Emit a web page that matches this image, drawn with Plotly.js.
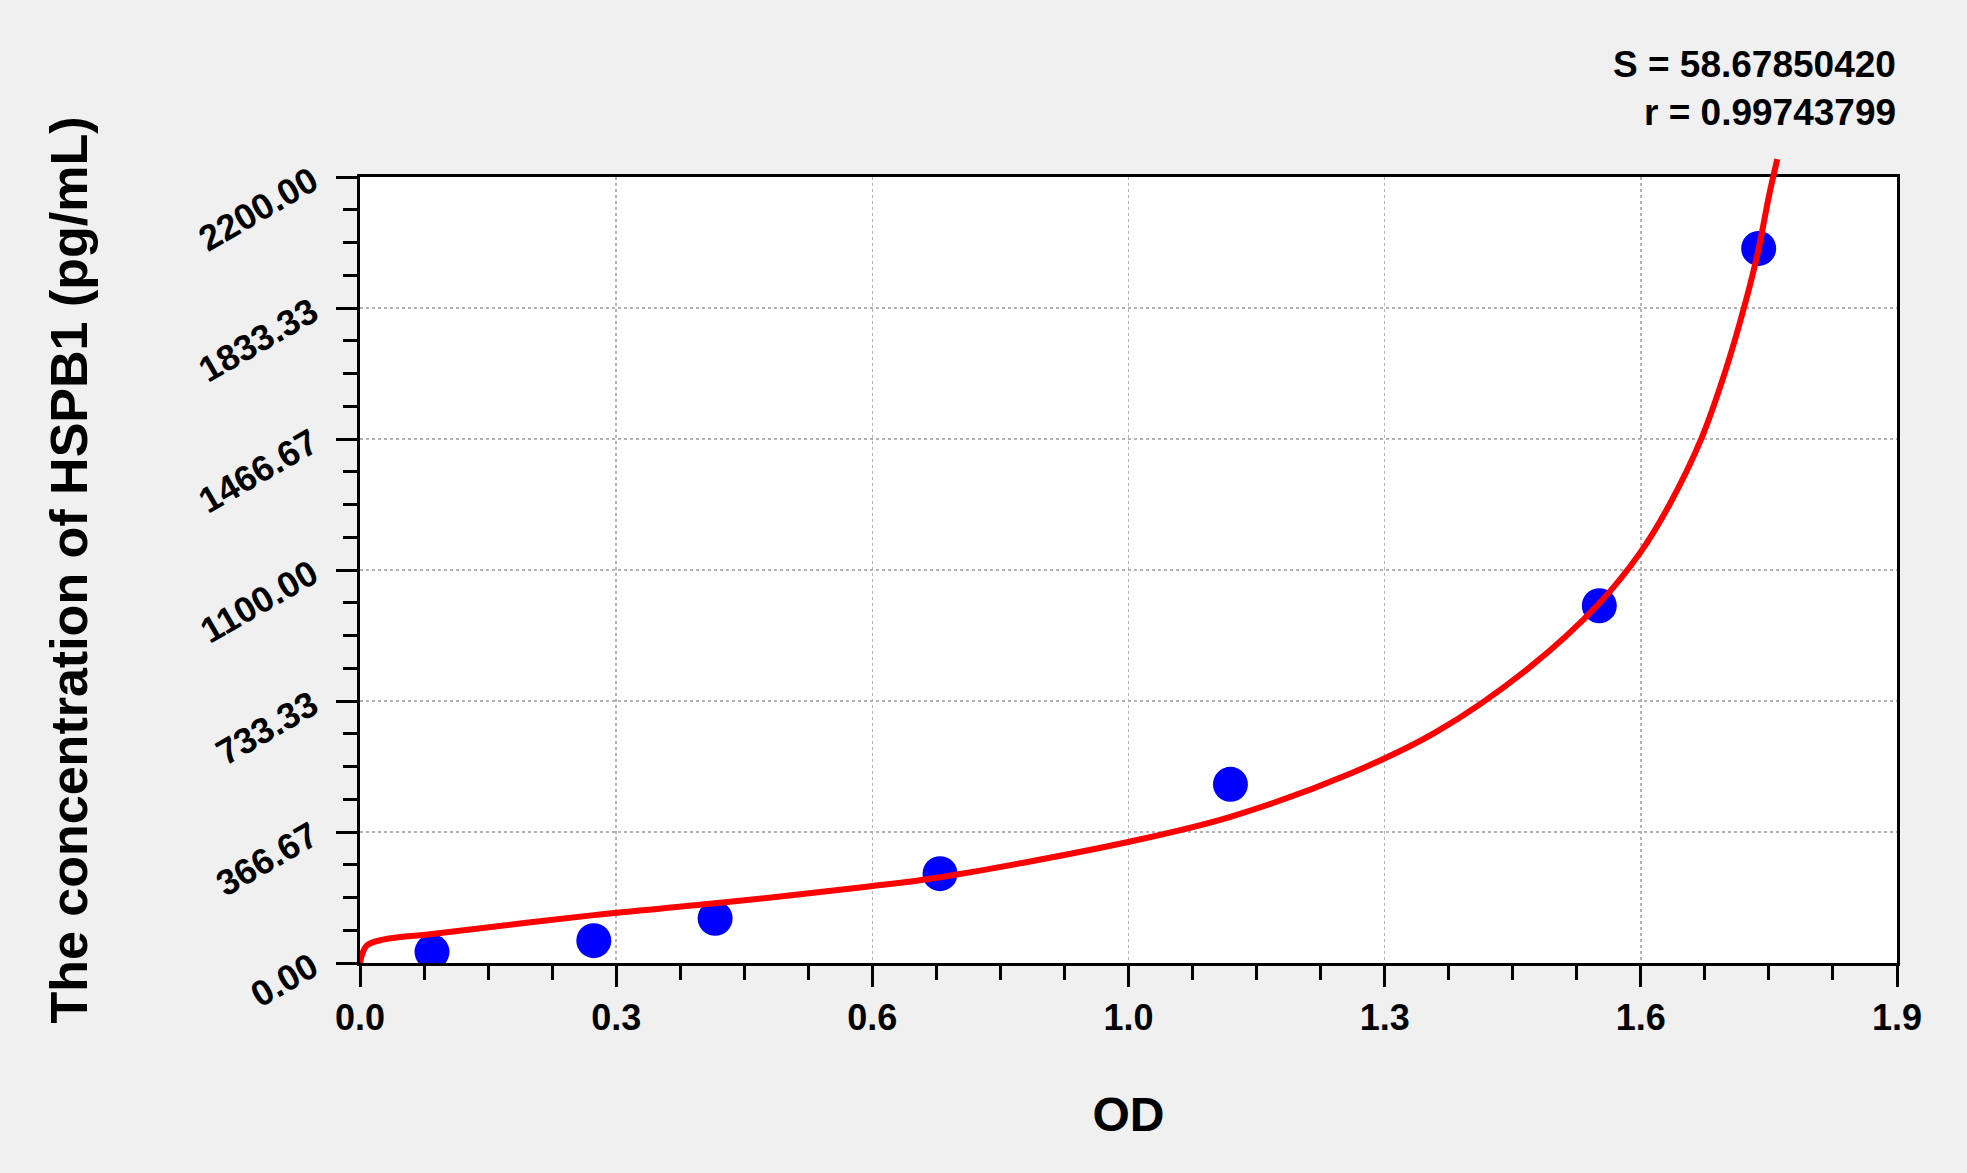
<!DOCTYPE html>
<html>
<head>
<meta charset="utf-8">
<script src="https://cdn.plot.ly/plotly-3.0.1.min.js"></script>
<style>
  html, body { margin: 0; padding: 0; background: #f0f0f0; }
  #graph { width: 1967px; height: 1173px; }
</style>
</head>
<body>
<div id="graph"></div>
<script>
// standards
var odValues = [0.089, 0.289, 0.439, 0.717, 1.076, 1.532, 1.729];
var concValues = [31.25, 62.5, 125, 250, 500, 1000, 2000];

// fitted curve, points
var fitOd = [0, 0.008, 0.03, 0.089, 0.289, 0.439, 0.629, 0.717, 0.948, 1.076,
  1.226, 1.330, 1.445, 1.532, 1.583, 1.618, 1.658, 1.689, 1.713, 1.728, 1.742, 1.752];
var fitConc = [0, 48, 66, 81, 134, 167, 214, 240, 338, 409,
  532, 646, 826, 1007, 1150, 1280, 1467, 1665, 1852, 1989, 2150, 2250];

var xTickVals = [0, 0.316667, 0.633333, 0.95, 1.266667, 1.583333, 1.9];
var xTickText = ['0.0', '0.3', '0.6', '1.0', '1.3', '1.6', '1.9'];
var yTickVals = [0, 366.667, 733.333, 1100, 1466.667, 1833.333, 2200];
var yTickText = ['0.00', '366.67', '733.33', '1100.00', '1466.67', '1833.33', '2200.00'];

var statsLines = ['S = 58.67850420', 'r = 0.99743799'];
var statsY = [1.1148, 1.0552];

var fontFamily = '"Liberation Sans", Arial, sans-serif';

// main frame is 786px tall, overlay subplot adds 20px on top so the curve can poke out
var yTop = 786 / 806;
var yMax2 = 2200 * 806 / 786;

var points = {
  x: odValues,
  y: concValues,
  mode: 'markers',
  type: 'scatter',
  marker: { color: '#0000ff', size: 35 },
  xaxis: 'x',
  yaxis: 'y'
};

var curve = {
  x: fitOd,
  y: fitConc,
  mode: 'lines',
  type: 'scatter',
  line: { color: '#ff0000', width: 6, shape: 'spline', smoothing: 1 },
  xaxis: 'x2',
  yaxis: 'y2'
};

var tickFont = { family: fontFamily, size: 36, color: '#000', weight: 'bold' };

var layout = {
  width: 1967,
  height: 1173,
  paper_bgcolor: '#f0f0f0',
  plot_bgcolor: 'rgba(0,0,0,0)',
  showlegend: false,
  margin: { l: 360, r: 70, t: 157, b: 210, pad: 0 },
  xaxis: {
    domain: [0, 1],
    range: [0, 1.9],
    tickmode: 'array',
    tickvals: xTickVals,
    ticktext: xTickText,
    ticks: 'outside',
    ticklen: 21,
    tickwidth: 3,
    tickcolor: '#000',
    ticklabelstandoff: 0,
    minor: { dtick: 1.9 / 24, tick0: 0, ticks: 'outside', ticklen: 14, tickwidth: 3, tickcolor: '#000', showgrid: false },
    showline: true,
    linecolor: '#000',
    linewidth: 3,
    mirror: true,
    showgrid: true,
    gridcolor: '#b4b4b4',
    gridwidth: 1.5,
    griddash: 'dot',
    zeroline: false,
    tickfont: tickFont,
    title: { text: 'OD', font: { family: fontFamily, size: 48, color: '#000', weight: 'bold' }, standoff: 61 },
    anchor: 'y'
  },
  yaxis: {
    domain: [0, yTop],
    range: [0, 2200],
    tickmode: 'array',
    tickvals: yTickVals,
    ticktext: yTickText,
    tickangle: -30,
    ticks: 'outside',
    ticklen: 21,
    tickwidth: 3,
    tickcolor: '#000',
    ticklabelstandoff: 17,
    minor: { dtick: 2200 / 24, tick0: 0, ticks: 'outside', ticklen: 14, tickwidth: 3, tickcolor: '#000', showgrid: false },
    showline: true,
    linecolor: '#000',
    linewidth: 3,
    mirror: true,
    showgrid: true,
    gridcolor: '#b4b4b4',
    gridwidth: 1.5,
    griddash: 'dot',
    zeroline: false,
    tickfont: tickFont,
    title: { text: 'The concentration of HSPB1 (pg/mL)', font: { family: fontFamily, size: 52, color: '#000', weight: 'bold' }, standoff: 88 },
    anchor: 'x'
  },
  xaxis2: { domain: [0, 1], range: [0, 1.9], visible: false, anchor: 'y2' },
  yaxis2: { domain: [0, 1], range: [0, yMax2], visible: false, anchor: 'x2' },
  shapes: [{
    type: 'rect', xref: 'x domain', yref: 'y domain',
    x0: 0, x1: 1, y0: 0, y1: 1,
    fillcolor: '#ffffff', line: { width: 0 }, layer: 'below'
  }],
  annotations: statsLines.map(function (txt, i) {
    return {
      text: txt,
      xref: 'paper', yref: 'paper',
      x: 1, y: statsY[i],
      xanchor: 'right', yanchor: 'middle',
      xshift: 1,
      showarrow: false,
      font: { family: fontFamily, size: 37, color: '#000', weight: 'bold' }
    };
  })
};

Plotly.newPlot('graph', [points, curve], layout, { displayModeBar: false, staticPlot: true });
</script>
</body>
</html>
